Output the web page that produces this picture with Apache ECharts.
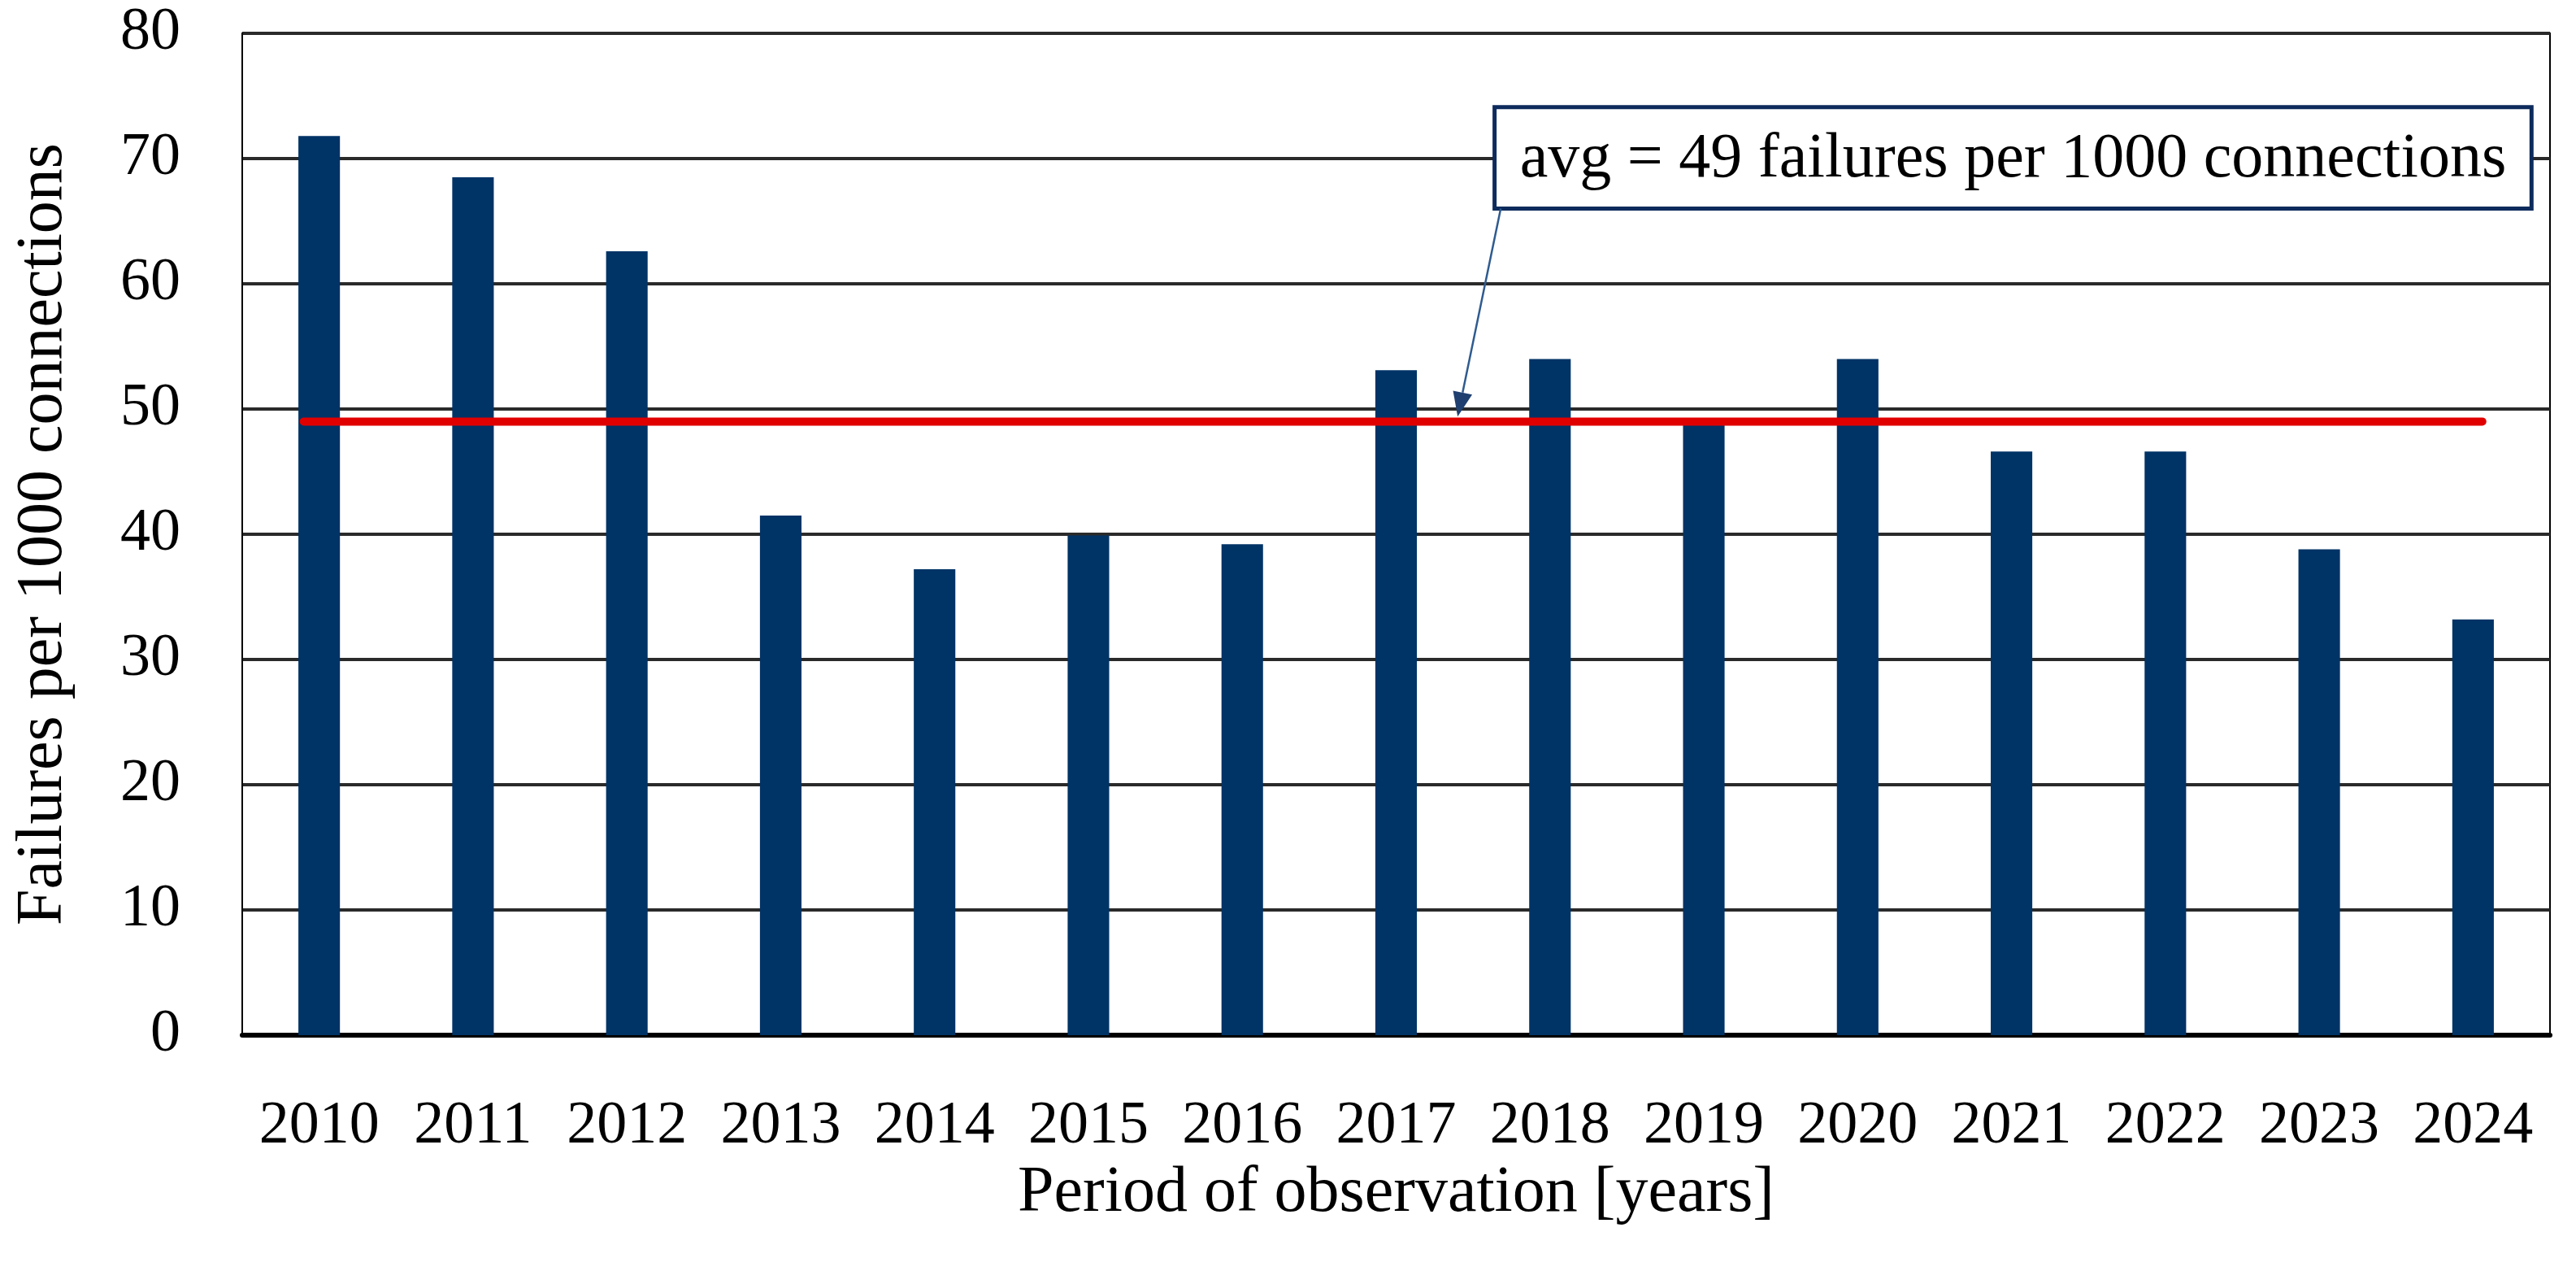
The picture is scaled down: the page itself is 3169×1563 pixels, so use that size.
<!DOCTYPE html>
<html>
<head>
<meta charset="utf-8">
<script src="https://cdn.jsdelivr.net/npm/echarts@6/dist/echarts.min.js"></script>
<style>
html, body { margin: 0; padding: 0; background: #fff; }
#chart { width: 3169px; height: 1563px; }
</style>
</head>
<body>
<div id="chart"></div>
<script>
// ---- data ----
const categories = ['2010', '2011', '2012', '2013', '2014', '2015', '2016', '2017', '2018', '2019', '2020', '2021', '2022', '2023', '2024'];
const failures = [71.8, 68.5, 62.6, 41.5, 37.2, 39.9, 39.2, 53.1, 54.0, 49.0, 54.0, 46.6, 46.6, 38.8, 33.2];
const avgValue = 49;
const avgLabel = 'avg = 49 failures per 1000 connections';
const yAxisName = 'Failures per 1000 connections';
const xAxisName = 'Period of observation [years]';
const yMin = 0, yMax = 80, yInterval = 10;

// ---- chart ----
const FONT = '"Liberation Serif", "DejaVu Serif", serif';
const chart = echarts.init(document.getElementById('chart'), null, { renderer: 'canvas' });

const avgLineData = [[-0.1, avgValue], [14.06, avgValue]];

chart.setOption({
  animation: false,
  backgroundColor: '#fff',
  grid: { left: 298, right: 32, top: 41, bottom: 290, show: true, borderColor: '#000', borderWidth: 2, backgroundColor: 'transparent' },
  xAxis: [{
    type: 'category',
    data: categories,
    boundaryGap: true,
    axisLine: { show: true, onZero: false, lineStyle: { color: '#000', width: 6 } },
    axisTick: { show: false },
    axisLabel: { color: '#000', fontFamily: FONT, fontSize: 74, margin: 76, interval: 0 },
    name: xAxisName,
    nameLocation: 'middle',
    nameGap: 126,
    nameTextStyle: { color: '#000', fontFamily: FONT, fontSize: 80 }
  }, {
    type: 'value',
    min: -0.5,
    max: 14.5,
    show: false,
    axisLine: { show: false },
    splitLine: { show: false }
  }],
  yAxis: {
    type: 'value',
    min: yMin,
    max: yMax,
    interval: yInterval,
    axisLine: { show: true, onZero: false, lineStyle: { color: '#000', width: 2 } },
    axisTick: { show: false },
    axisLabel: { color: '#000', fontFamily: FONT, fontSize: 74, margin: 76 },
    splitLine: { show: true, lineStyle: { color: '#2a2a2a', width: 4 } },
    name: yAxisName,
    nameLocation: 'middle',
    nameGap: 204,
    nameRotate: 90,
    nameTextStyle: { color: '#000', fontFamily: FONT, fontSize: 80 }
  },
  series: [{
    type: 'bar',
    data: failures,
    barWidth: '27%',
    itemStyle: { color: '#003366' },
    z: 2
  }, {
    type: 'line',
    xAxisIndex: 1,
    data: avgLineData,
    showSymbol: false,
    symbol: 'none',
    lineStyle: { color: '#e00000', width: 10, cap: 'round' },
    z: 3
  }]
});

// ---- annotation (anchored through data coordinates) ----
const px = (x, y) => chart.convertToPixel({ xAxisIndex: 1, yAxisIndex: 0 }, [x, y]);
const b1 = px(7.64, 74.1);
const b2 = px(14.38, 66.0);
const aStart = px(7.68, 66.0);
const aTip = px(7.40, 49.4);
const dx = aTip[0] - aStart[0], dy = aTip[1] - aStart[1];
const len = Math.sqrt(dx * dx + dy * dy);
const ux = dx / len, uy = dy / len;
const headLen = 30, headHalf = 12;
const base = [aTip[0] - ux * headLen, aTip[1] - uy * headLen];
const nx = -uy, ny = ux;

chart.setOption({
  graphic: [
    {
      type: 'rect',
      shape: { x: b1[0], y: b1[1], width: b2[0] - b1[0], height: b2[1] - b1[1] },
      style: { fill: '#fff', stroke: '#0d2b5c', lineWidth: 5 },
      z: 10
    },
    {
      type: 'text',
      x: (b1[0] + b2[0]) / 2,
      y: (b1[1] + b2[1]) / 2 + 2,
      style: { text: avgLabel, font: '78px ' + FONT, fill: '#000', align: 'center', verticalAlign: 'middle' },
      z: 11
    },
    {
      type: 'line',
      shape: { x1: aStart[0], y1: aStart[1], x2: base[0], y2: base[1] },
      style: { stroke: '#2f5b8f', lineWidth: 2.5 },
      z: 10
    },
    {
      type: 'polygon',
      shape: { points: [aTip, [base[0] + nx * headHalf, base[1] + ny * headHalf], [base[0] - nx * headHalf, base[1] - ny * headHalf]] },
      style: { fill: '#1f3f70' },
      z: 10
    }
  ]
});
</script>
</body>
</html>
